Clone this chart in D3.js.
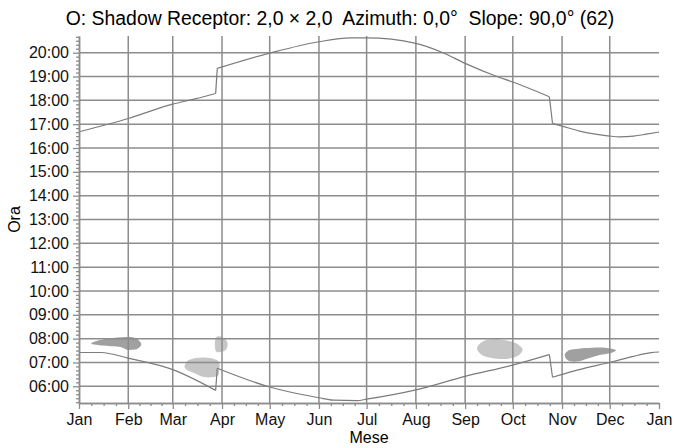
<!DOCTYPE html>
<html>
<head>
<meta charset="utf-8">
<script src="https://cdn.jsdelivr.net/npm/d3@7"></script>
<style>
  body { margin: 0; background: #fff; }
  svg { font-family: "Liberation Sans", Arial, sans-serif; }
</style>
</head>
<body>
<div id="chart"></div>
<script>
var monthLabels = ['Jan', 'Feb', 'Mar', 'Apr', 'May', 'Jun', 'Jul', 'Aug', 'Sep', 'Oct', 'Nov', 'Dec', 'Jan'];
var hourTicks = [6, 7, 8, 9, 10, 11, 12, 13, 14, 15, 16, 17, 18, 19, 20];
var hourLabels = ['06:00', '07:00', '08:00', '09:00', '10:00', '11:00', '12:00', '13:00',
                  '14:00', '15:00', '16:00', '17:00', '18:00', '19:00', '20:00'];

// day of year -> hour of day
var sunsetDays  = [0, 31, 59, 73, 86, 87, 120, 151, 171, 181, 212, 229, 243, 263, 273, 296, 298, 304, 315, 326, 334, 340, 349, 357, 365];
var sunsetHours = [16.68, 17.24, 17.84, 18.06, 18.29, 19.34, 19.98, 20.46, 20.62, 20.62, 20.39, 20.0, 19.55, 19.0, 18.77, 18.15, 17.03, 16.92, 16.71, 16.57, 16.50, 16.47, 16.50, 16.58, 16.67];
var sunriseDays  = [0, 14, 31, 59, 86, 87, 120, 151, 160, 175, 181, 212, 243, 274, 296, 298, 303, 314, 335, 349, 360, 365];
var sunriseHours = [7.42, 7.42, 7.18, 6.70, 5.83, 6.76, 5.97, 5.52, 5.42, 5.40, 5.46, 5.85, 6.42, 6.91, 7.33, 6.38, 6.48, 6.69, 7.02, 7.26, 7.41, 7.44];

// shadow areas, outline as [day, hour]
var shadowJanFeb = [[7.7, 7.80], [12.0, 7.92], [18.3, 8.01], [24.5, 8.05], [30.8, 8.07], [36.1, 8.01], [39.2, 7.77],
                    [37.1, 7.59], [32.9, 7.53], [29.8, 7.55], [26.6, 7.64], [20.3, 7.68], [14.0, 7.71], [9.9, 7.75]];
var shadowMar = [[66.5, 6.87], [68.6, 7.08], [72.8, 7.18], [79.1, 7.21], [85.4, 7.14], [88.1, 7.03], [88.1, 6.58],
                 [87.5, 6.45], [83.3, 6.38], [78.0, 6.40], [72.8, 6.55], [68.6, 6.66], [66.5, 6.79]];
var shadowApr = [[86.4, 8.07], [90.6, 8.05], [93.4, 7.84], [92.7, 7.56], [89.6, 7.45], [86.4, 7.45]];
var shadowSepOct = [[250.5, 7.61], [253.6, 7.86], [259.9, 7.97], [268.3, 7.93], [275.6, 7.79], [279.2, 7.55],
                    [276.7, 7.30], [270.4, 7.16], [263.1, 7.16], [256.8, 7.23], [252.5, 7.37]];
var shadowNovDec = [[305.7, 7.33], [308.2, 7.51], [314.5, 7.58], [322.8, 7.62], [331.2, 7.62], [338.0, 7.51],
                    [335.4, 7.41], [329.1, 7.33], [320.8, 7.18], [314.5, 7.05], [309.2, 7.05], [306.5, 7.16]];

var width = 674,
    height = 448,
    plotLeft = 79, plotRight = 659, plotTop = 36, plotBottom = 403;
var gridColor = '#8c8c8c';

var start = new Date(2011, 0, 1), end = new Date(2012, 0, 1);
function dayDate(d) { return new Date(start.getTime() + d * 864e5); }

var x = d3.scaleTime().domain([start, end]).range([plotLeft, plotRight]);
var y = d3.scaleLinear().domain([5.3, 20.7]).range([plotBottom, plotTop]);

var svg = d3.select('#chart').append('svg')
    .attr('width', width)
    .attr('height', height);

// shadow areas
var blob = d3.line()
    .x(function(d) { return x(dayDate(d[0])); })
    .y(function(d) { return y(d[1]); })
    .curve(d3.curveCatmullRomClosed.alpha(0.5));

var shadows = [shadowJanFeb, shadowMar, shadowApr, shadowSepOct, shadowNovDec];
var shadeFill = ['#a0a0a0', '#c6c6c6', '#c6c6c6', '#c6c6c6', '#a0a0a0'];
svg.selectAll('.shadow')
    .data(shadows)
    .enter().append('path')
    .attr('class', 'shadow')
    .attr('d', blob)
    .style('fill', function(d, i) { return shadeFill[i]; });

// grid
var months = x.ticks(d3.timeMonth);
svg.append('g').selectAll('line')
    .data(hourTicks)
    .enter().append('line')
    .attr('x1', plotLeft).attr('x2', plotRight)
    .attr('y1', function(d) { return y(d); })
    .attr('y2', function(d) { return y(d); })
    .style('stroke', gridColor).style('stroke-width', 1.5);
svg.append('g').selectAll('line')
    .data(months.slice(1, -1))
    .enter().append('line')
    .attr('y1', plotTop).attr('y2', plotBottom)
    .attr('x1', function(d) { return x(d); })
    .attr('x2', function(d) { return x(d); })
    .style('stroke', gridColor).style('stroke-width', 1.5);

// sunrise / sunset: smooth between clock changes, straight across them
var smooth = d3.line()
    .x(function(d) { return x(dayDate(d[0])); })
    .y(function(d) { return y(d[1]); })
    .curve(d3.curveMonotoneX);
var straight = d3.line()
    .x(function(d) { return x(dayDate(d[0])); })
    .y(function(d) { return y(d[1]); });

function drawCurve(days, hours) {
  var pts = d3.zip(days, hours);
  var pieces = [[pts[0]]];
  for (var i = 1; i < pts.length; i++) {
    if (pts[i][0] - pts[i - 1][0] <= 2) {
      svg.append('path')
          .attr('d', straight([pts[i - 1], pts[i]]))
          .attr('class', 'sun');
      pieces.push([]);
    }
    pieces[pieces.length - 1].push(pts[i]);
  }
  pieces.forEach(function(p) {
    svg.append('path').attr('d', smooth(p)).attr('class', 'sun');
  });
}
drawCurve(sunsetDays, sunsetHours);
drawCurve(sunriseDays, sunriseHours);
svg.selectAll('.sun')
    .style('fill', 'none')
    .style('stroke', '#7c7c7c')
    .style('stroke-width', 1.2);

// axes
var minorHours = d3.range(32, 125).filter(function(k) { return k % 6 !== 0; })
    .map(function(k) { return k / 6; });
var minorDays = [];
months.slice(0, -1).forEach(function(m, i) {
  var next = months[i + 1];
  [0.25, 0.5, 0.75].forEach(function(f) {
    minorDays.push(new Date(m.getTime() + f * (next - m)));
  });
});

function styleAxis(g) {
  g.select('.domain').style('stroke', gridColor).style('stroke-width', 1.5);
  g.selectAll('.tick line').style('stroke', gridColor).style('stroke-width', 1.3);
  g.selectAll('.tick text').style('font-size', '16px').style('fill', '#111');
}

svg.append('g')
    .attr('transform', 'translate(' + plotLeft + ',0)')
    .call(d3.axisLeft(y).tickValues(minorHours).tickSize(3).tickSizeOuter(0).tickFormat(''))
    .call(styleAxis);
svg.append('g')
    .attr('transform', 'translate(' + plotLeft + ',0)')
    .call(d3.axisLeft(y).tickValues(hourTicks).tickSize(6).tickSizeOuter(0).tickPadding(4)
      .tickFormat(function(d, i) { return hourLabels[i]; }))
    .call(styleAxis);

svg.append('g')
    .attr('transform', 'translate(0,' + plotBottom + ')')
    .call(d3.axisBottom(x).tickValues(minorDays).tickSize(3).tickSizeOuter(0).tickFormat(''))
    .call(styleAxis);
svg.append('g')
    .attr('transform', 'translate(0,' + plotBottom + ')')
    .call(d3.axisBottom(x).tickValues(months).tickSize(6).tickSizeOuter(0).tickPadding(5)
      .tickFormat(function(d, i) { return monthLabels[i]; }))
    .call(styleAxis);

// titles
svg.append('text')
    .attr('x', 340).attr('y', 25)
    .attr('text-anchor', 'middle')
    .style('font-size', '19.4px')
    .style('white-space', 'pre')
    .text('O: Shadow Receptor: 2,0 \u00d7 2,0  Azimuth: 0,0\u00b0  Slope: 90,0\u00b0 (62)');
svg.append('text')
    .attr('x', (plotLeft + plotRight) / 2).attr('y', 443)
    .attr('text-anchor', 'middle')
    .style('font-size', '16px')
    .text('Mese');
svg.append('text')
    .attr('transform', 'translate(20,' + ((plotTop + plotBottom) / 2) + ') rotate(-90)')
    .attr('text-anchor', 'middle')
    .style('font-size', '16px')
    .text('Ora');
</script>
</body>
</html>
